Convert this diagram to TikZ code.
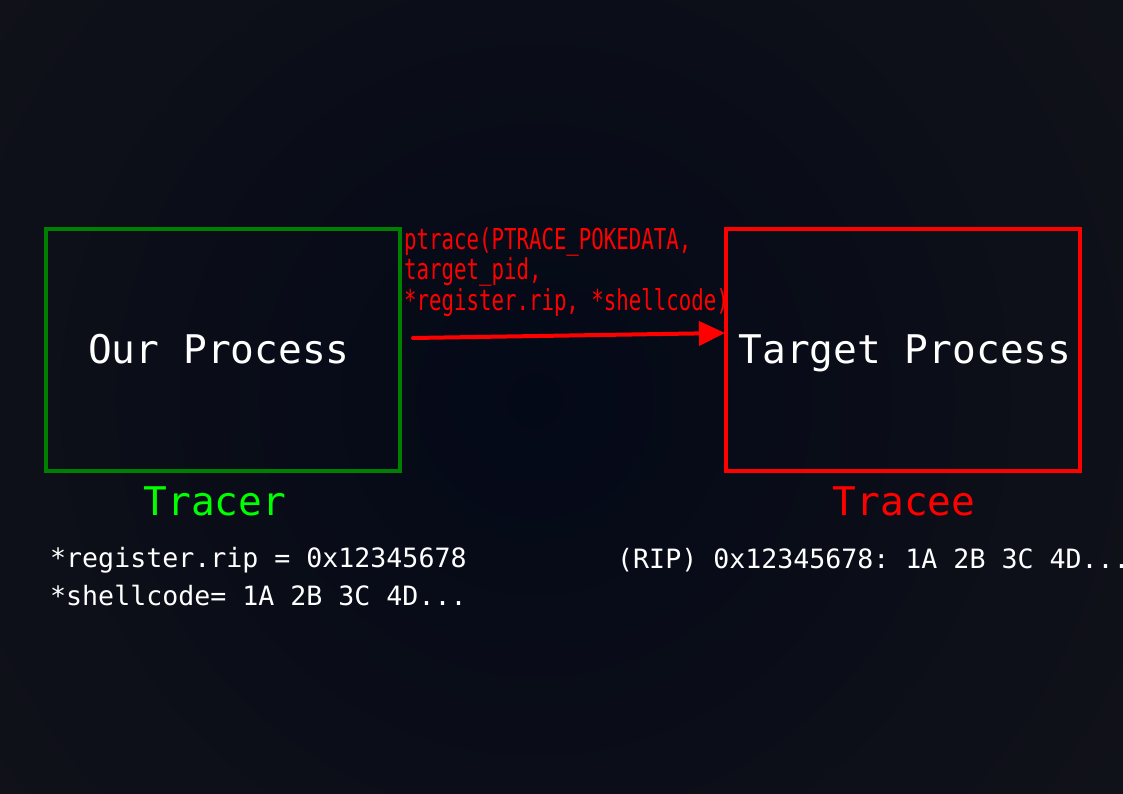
\documentclass[tikz,border=0pt]{standalone}
\usepackage{fontspec}
\setmonofont{DejaVu Sans Mono}
\newfontfamily\condmono{DejaVu Sans Mono}[FakeStretch=0.72]
\usetikzlibrary{arrows.meta}
\definecolor{bgouter}{RGB}{21,21,25}
\definecolor{bginner}{RGB}{4,9,24}
\definecolor{tracergreen}{RGB}{0,128,0}
\definecolor{brightgreen}{RGB}{0,255,0}
\definecolor{pred}{RGB}{255,0,0}
\tikzset{
  procbox/.style={draw, line width=4pt, minimum width=354pt, minimum height=242pt, inner sep=0pt},
  bigtxt/.style={text=white, font=\ttfamily\fontsize{39.5}{44}\selectfont, inner sep=0pt},
  roletxt/.style={font=\ttfamily\fontsize{39.5}{44}\selectfont, inner sep=0pt, anchor=base},
  memtxt/.style={text=white, font=\ttfamily\fontsize{26.6}{38.5}\selectfont, inner sep=0pt, anchor=base west},
  calltxt/.style={text=pred, font=\condmono\fontsize{28.8}{30}\selectfont, inner sep=0pt, anchor=base west},
}
\begin{document}
\begin{tikzpicture}[x=1pt,y=-1pt]
\useasboundingbox (0,0) rectangle (1123,794);
\fill[bgouter] (0,0) rectangle (1123,794);
\begin{scope}
\clip (0,0) rectangle (1123,794);
\shade[inner color=bginner, outer color=bgouter] (535,400) circle (950);
\end{scope}
\node[procbox, draw=tracergreen] (our) at (222.5,350) {};
\node[procbox, draw=pred] (tgt) at (903,350) {};
\node[bigtxt, anchor=base] (ourlbl) at (219,363) {Our Process};
\node[bigtxt, anchor=base] (tgtlbl) at (905,363) {Target Process};
\node[roletxt, text=brightgreen] (tracer) at (215,515) {Tracer};
\node[roletxt, text=pred] (tracee) at (904,515) {Tracee};
\node[memtxt] (m1) at (50,567) {*register.rip = 0x12345678};
\node[memtxt] (m2) at (50,605.5) {*shellcode= 1A 2B 3C 4D...};
\node[memtxt] (m3) at (617,568) {(RIP) 0x12345678: 1A 2B 3C 4D...};
\node[calltxt] (c1) at (404,249) {ptrace(PTRACE\_POKEDATA,};
\node[calltxt] (c2) at (404,279.5) {target\_pid,};
\node[calltxt] (c3) at (404,310) {*register.rip, *shellcode)};
\coordinate (as) at (413,338);
\coordinate (ae) at (725,333);
\draw[pred, line width=4pt, line cap=round, -{Triangle[length=26pt,width=24pt]}] (as) -- (ae);
\end{tikzpicture}
\end{document}
